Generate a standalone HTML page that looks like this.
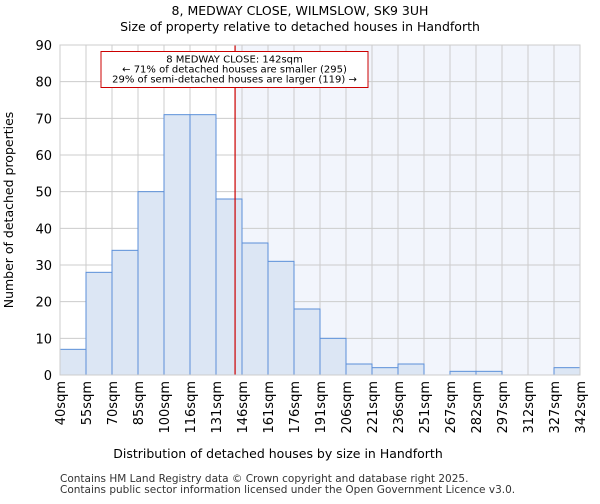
<!DOCTYPE html>
<html><head><meta charset="utf-8"><style>
body{margin:0;background:#fff;font-family:"DejaVu Sans","Liberation Sans",sans-serif}
</style></head><body>
<svg id="chart" width="600" height="500" xmlns="http://www.w3.org/2000/svg" font-family="DejaVu Sans, Liberation Sans, sans-serif">
<text x="300" y="15" text-anchor="middle" font-size="12.5">8, MEDWAY CLOSE, WILMSLOW, SK9 3UH</text>
<text x="300" y="31" text-anchor="middle" font-size="12.5">Size of property relative to detached houses in Handforth</text>
<g id="plot"></g>
<text x="278" y="458" text-anchor="middle" font-size="12.5">Distribution of detached houses by size in Handforth</text>
<text transform="translate(13,210) rotate(-90)" text-anchor="middle" font-size="12.5">Number of detached properties</text>
<text x="60" y="482" font-size="10.5" fill="#333">Contains HM Land Registry data © Crown copyright and database right 2025.</text>
<text x="60" y="493" font-size="10.5" fill="#333">Contains public sector information licensed under the Open Government Licence v3.0.</text>
</svg>
<script>
const binLabels=["40sqm","55sqm","70sqm","85sqm","100sqm","116sqm","131sqm","146sqm","161sqm","176sqm","191sqm","206sqm","221sqm","236sqm","251sqm","267sqm","282sqm","297sqm","312sqm","327sqm","342sqm"];
const binEdges=[40,55,70,85,100,116,131,146,161,176,191,206,221,236,251,267,282,297,312,327,342];
const counts=[7,28,34,50,71,71,48,36,31,18,10,3,2,3,0,1,1,0,0,2];
const yTicks=[0,10,20,30,40,50,60,70,80,90];
const subjectSize=142;
const annotationLines=["8 MEDWAY CLOSE: 142sqm","← 71% of detached houses are smaller (295)","29% of semi-detached houses are larger (119) →"];

const L=60,R=580,T=45,B=375,yMax=90;
const NS="http://www.w3.org/2000/svg";
const g=document.getElementById('plot');
const bw=(R-L)/counts.length;
const xi=i=>L+i*bw;
const y=v=>B-(v/yMax)*(B-T);
function xv(v){for(let i=0;i<binEdges.length-1;i++){if(v<=binEdges[i+1])return xi(i)+(v-binEdges[i])/(binEdges[i+1]-binEdges[i])*bw;}return R;}
function mk(t,a){const e=document.createElementNS(NS,t);for(const k in a)e.setAttribute(k,a[k]);g.appendChild(e);return e;}
const mx=xv(subjectSize);
let e;
e=mk('rect',{x:mx,y:T,width:R-mx,height:B-T,fill:'#f2f5fc'});


for(let i=0;i<=counts.length;i++){e=mk('line',{x1:xi(i),x2:xi(i),y1:T,y2:B,stroke:'#cccccc','stroke-width':1});

}
yTicks.forEach(t=>{e=mk('line',{x1:L,x2:R,y1:y(t),y2:y(t),stroke:'#cccccc','stroke-width':1});


e=mk('text',{x:L-8,y:y(t)+5,'text-anchor':'end','font-size':13});e.textContent=t;

});
counts.forEach((c,i)=>{e=mk('rect',{x:xi(i),y:y(c),width:bw,height:B-y(c),fill:'#dce6f4',stroke:'#5b8fd9','stroke-width':1});

});
binLabels.forEach((lb,i)=>{const x=xi(i);e=mk('text',{transform:`translate(${x+5},381) rotate(-90)`,'text-anchor':'end','font-size':13});e.textContent=lb;

});
e=mk('line',{x1:mx,x2:mx,y1:T,y2:B,stroke:'#cc0000','stroke-width':1.2});


e=mk('rect',{x:101,y:51.5,width:267,height:36,fill:'#fff',stroke:'#cc0000','stroke-width':1});


annotationLines.forEach((s,i)=>{e=mk('text',{x:234.5,y:62.5+i*10,'text-anchor':'middle','font-size':10});e.textContent=s;

});
e=mk('rect',{x:L,y:T,width:R-L,height:B-T,fill:'none',stroke:'#cccccc'});


</script>
</body></html>
